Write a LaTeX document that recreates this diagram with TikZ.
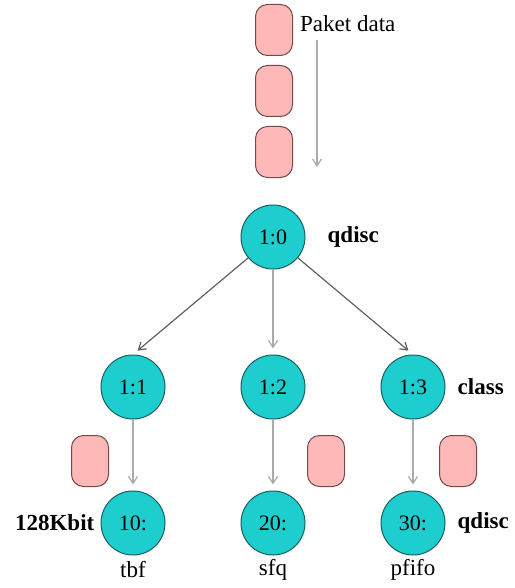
\documentclass[tikz,border=0pt]{standalone}
\usepackage{fontspec}
\setmainfont{Liberation Serif}
\usetikzlibrary{arrows.meta,positioning}

\definecolor{qcyan}{RGB}{30,206,206}
\definecolor{qedge}{RGB}{25,95,95}
\definecolor{ppink}{RGB}{255,184,184}
\definecolor{pedge}{RGB}{115,75,75}
\definecolor{darrow}{RGB}{95,95,95}
\definecolor{larrow}{RGB}{170,170,170}

\tikzset{
  qnode/.style={circle,draw=qedge,fill=qcyan,line width=1pt,minimum size=64pt,
    inner sep=0pt,font=\fontsize{22}{26}\selectfont},
  pkt/.style={draw=pedge,fill=ppink,rounded corners=12pt,minimum width=37pt,
    minimum height=51pt,line width=1pt},
  lbl/.style={inner sep=0pt,font=\fontsize{23}{27}\selectfont},
  blbl/.style={lbl,font=\fontsize{23}{27}\selectfont\bfseries},
  arr/.style={-{Straight Barb[length=7pt,width=9pt]},line width=1.2pt,shorten >=6pt},
}

\begin{document}
\begin{tikzpicture}[x=1pt,y=-1pt]
    \useasboundingbox (0,0) rectangle (514,588);
    % incoming packets
    \node[pkt] (p1) at (274,30) {};
    \node[pkt] (p2) at (274,91) {};
    \node[pkt] (p3) at (274,152) {};
    \node[lbl,anchor=west] (paket) at (300,24) {Paket data};
    \coordinate (in1) at (317,40);
    \coordinate (in2) at (317,173);
    \draw[arr,larrow] (in1) -- (in2);

    % root qdisc
    \node[qnode] (q10) at (273,237) {1:0};
    \node[blbl,right=22pt of q10] (rootlbl) {qdisc};

    % classes
    \node[qnode] (q11) at (133,387) {1:1};
    \node[qnode] (q12) at (273,387) {1:2};
    \node[qnode] (q13) at (413,387) {1:3};
    \node[blbl,right=12pt of q13] (classlbl) {class};

    % leaf qdiscs
    \node[qnode] (q21) at (133,523) {10:};
    \node[qnode] (q22) at (273,523) {20:};
    \node[qnode] (q23) at (413,523) {30:};
    \node[blbl,left=6pt of q21] (ratelbl) {128Kbit};
    \node[blbl,right=12pt of q23] (leaflbl) {qdisc};
    \node[lbl] (tbf) at (133,570) {tbf};
    \node[lbl] (sfq) at (273,570) {sfq};
    \node[lbl] (pfifo) at (413,570) {pfifo};

    % queued packets
    \node[pkt] (p4) at (90,461) {};
    \node[pkt] (p5) at (326,461) {};
    \node[pkt] (p6) at (458,461) {};

    \draw[arr,darrow] (q10) -- (q11.north);
    \draw[arr,larrow] (q10) -- (q12.north);
    \draw[arr,darrow] (q10) -- (q13.north);
    \draw[arr,larrow] (q11) -- (q21);
    \draw[arr,larrow] (q12) -- (q22);
    \draw[arr,larrow] (q13) -- (q23);
\end{tikzpicture}
\end{document}
